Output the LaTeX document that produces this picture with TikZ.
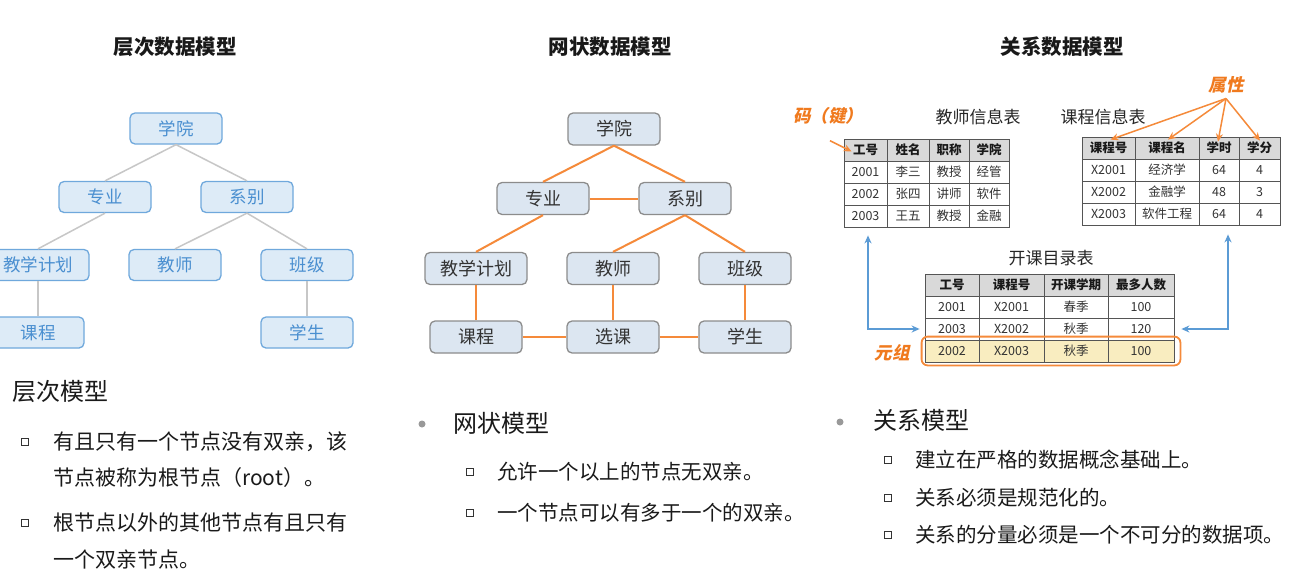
\documentclass[tikz,border=0pt]{standalone}
\usepackage{fontspec}
\setmainfont{Noto Sans CJK SC}
\newfontfamily\ocjk[FakeSlant=0.22]{Noto Sans CJK SC}
\usetikzlibrary{arrows.meta}
\definecolor{hfill}{HTML}{DDEBF7}
\definecolor{hdraw}{HTML}{6FA8DC}
\definecolor{htext}{HTML}{4A8FD0}
\definecolor{nfill}{HTML}{DCE6F1}
\definecolor{ndraw}{HTML}{8C8C8C}
\definecolor{ntext}{HTML}{333333}
\definecolor{oline}{HTML}{F58A3A}
\definecolor{otext}{HTML}{F07A1E}
\definecolor{bline}{HTML}{5B9BD5}
\definecolor{tgray}{HTML}{D9D9D9}
\definecolor{tyel}{HTML}{F9EDC0}
\definecolor{tline}{HTML}{555555}
\definecolor{ttext}{HTML}{333333}
\definecolor{btext}{HTML}{1A1A1A}
\begin{document}
\begin{tikzpicture}[x=1pt,y=-1pt,
  hbox/.style={draw=hdraw,fill=hfill,line width=1.3pt,rounded corners=5pt,minimum width=92pt,minimum height=31pt,inner sep=0pt,text=htext,font=\fontsize{17.5}{19}\selectfont},
  nbox/.style={draw=ndraw,fill=nfill,line width=1.3pt,rounded corners=5pt,minimum width=92pt,minimum height=32pt,inner sep=0pt,text=ntext,font=\fontsize{18}{20}\selectfont},
  hedge/.style={draw=black!22,line width=1.5pt},
  nedge/.style={draw=oline,line width=2pt},
  title/.style={font=\fontsize{20.5}{22}\selectfont\bfseries,text=black!90},
  heading/.style={anchor=west,font=\fontsize{24}{26}\selectfont,text=btext,inner sep=0pt},
  item/.style={anchor=west,font=\fontsize{21}{23}\selectfont,text=btext,inner sep=0pt},
  sitem/.style={item,font=\fontsize{20.5}{22}\selectfont},
  sqb/.style={draw=black!80,line width=0.9pt,minimum size=6.5pt,inner sep=0pt},
  dotb/.style={circle,fill=black!40,minimum size=7pt,inner sep=0pt},
  cell/.style={draw=tline,line width=0.8pt,inner sep=0pt,minimum height=22pt,text=ttext,font=\fontsize{12.5}{14}\selectfont},
  hcell/.style={cell,fill=tgray,font=\fontsize{12.5}{14}\selectfont\bfseries,text=black!90},
  olabel/.style={text=otext,font=\fontsize{17.5}{19}\selectfont\ocjk\bfseries,inner sep=0pt},
  tlabel/.style={text=black!85,font=\fontsize{17}{19}\selectfont,inner sep=0pt},
  oarr/.style={draw=oline,line width=1.5pt,-{Stealth[length=8pt,width=7pt]}},
  barr/.style={draw=bline,line width=2pt,{Stealth[length=8pt,width=7pt]}-{Stealth[length=8pt,width=7pt]}}
]
\useasboundingbox (0,0) rectangle (1310,576);
\fill[white] (0,0) rectangle (1310,576);

% ---------- titles
\node[title] (t1) at (175,47) {层次数据模型};
\node[title] (t2) at (610,47) {网状数据模型};
\node[title] (t3) at (1062,47) {关系数据模型};

% ---------- hierarchical model
\node[hbox] (h1) at (176,128.5) {学院};
\node[hbox] (h2) at (105,197) {专业};
\node[hbox] (h3) at (247,197) {系别};
\node[hbox,minimum width=102pt] (h4) at (38,265) {教学计划};
\node[hbox] (h5) at (175,265) {教师};
\node[hbox] (h6) at (307,265) {班级};
\node[hbox] (h7) at (38,332.5) {课程};
\node[hbox] (h8) at (307,332.5) {学生};
\draw[hedge] (h1.south) -- (h2.north);
\draw[hedge] (h1.south) -- (h3.north);
\draw[hedge] (h2.south) -- (h4.north);
\draw[hedge] (h3.south) -- (h5.north);
\draw[hedge] (h3.south) -- (h6.north);
\draw[hedge] (h4.south) -- (h7.north);
\draw[hedge] (h6.south) -- (h8.north);

% ---------- network model
\node[nbox] (n1) at (614,129) {学院};
\node[nbox] (n2) at (543,198.5) {专业};
\node[nbox] (n3) at (685,198.5) {系别};
\node[nbox,minimum width=102pt] (n4) at (476,268.5) {教学计划};
\node[nbox] (n5) at (613,268.5) {教师};
\node[nbox] (n6) at (745,268.5) {班级};
\node[nbox] (n7) at (476,337) {课程};
\node[nbox] (n8) at (613,337) {选课};
\node[nbox] (n9) at (745,337) {学生};
\draw[nedge] (n1.south) -- (n2.north);
\draw[nedge] (n1.south) -- (n3.north);
\draw[nedge] (n2.east) -- (n3.west);
\draw[nedge] (n2.south) -- (n4.north);
\draw[nedge] (n3.south) -- (n5.north);
\draw[nedge] (n3.south) -- (n6.north);
\draw[nedge] (n4.south) -- (n7.north);
\draw[nedge] (n5.south) -- (n8.north);
\draw[nedge] (n6.south) -- (n9.north);
\draw[nedge] (n7.east) -- (n8.west);
\draw[nedge] (n8.east) -- (n9.west);

% ---------- relational model: labels
\node[olabel] (key) at (828,116) {码（键）};
\node[tlabel] (tt1) at (978,117) {教师信息表};
\node[tlabel] (tt2) at (1103,117) {课程信息表};
\node[olabel] (attr) at (1226,85) {属性};
\node[tlabel] (tt3) at (1051,258) {开课目录表};

% teacher table
\node[hcell,minimum width=43pt] (T01) at (865.5,150) {工号};
\node[hcell,minimum width=42pt] (T02) at (908,150) {姓名};
\node[hcell,minimum width=40pt] (T03) at (949,150) {职称};
\node[hcell,minimum width=40pt] (T04) at (989,150) {学院};
\foreach \a/\b/\c/\d [count=\r] in {2001/李三/教授/经管,2002/张四/讲师/软件,2003/王五/教授/金融}{
  \node[cell,minimum width=43pt] (T\r1) at (865.5,{150+22*\r}) {\a};
  \node[cell,minimum width=42pt] (T\r2) at (908,{150+22*\r}) {\b};
  \node[cell,minimum width=40pt] (T\r3) at (949,{150+22*\r}) {\c};
  \node[cell,minimum width=40pt] (T\r4) at (989,{150+22*\r}) {\d};
}

% course table
\node[hcell,minimum width=53pt] (C01) at (1108.5,148) {课程号};
\node[hcell,minimum width=64pt] (C02) at (1167,148) {课程名};
\node[hcell,minimum width=40pt] (C03) at (1219,148) {学时};
\node[hcell,minimum width=41pt] (C04) at (1259.5,148) {学分};
\foreach \a/\b/\c/\d [count=\r] in {X2001/经济学/64/4,X2002/金融学/48/3,X2003/软件工程/64/4}{
  \node[cell,minimum width=53pt] (C\r1) at (1108.5,{148+22*\r}) {\a};
  \node[cell,minimum width=64pt] (C\r2) at (1167,{148+22*\r}) {\b};
  \node[cell,minimum width=40pt] (C\r3) at (1219,{148+22*\r}) {\c};
  \node[cell,minimum width=41pt] (C\r4) at (1259.5,{148+22*\r}) {\d};
}

% schedule table
\fill[tyel] (925,340) rectangle (1174,362);
\node[hcell,minimum width=54pt] (S01) at (952,285) {工号};
\node[hcell,minimum width=65pt] (S02) at (1011.5,285) {课程号};
\node[hcell,minimum width=64pt] (S03) at (1076,285) {开课学期};
\node[hcell,minimum width=66pt] (S04) at (1141,285) {最多人数};
\foreach \a/\b/\c/\d [count=\r] in {2001/X2001/春季/100,2003/X2002/秋季/120,2002/X2003/秋季/100}{
  \node[cell,minimum width=54pt] (S\r1) at (952,{285+22*\r}) {\a};
  \node[cell,minimum width=65pt] (S\r2) at (1011.5,{285+22*\r}) {\b};
  \node[cell,minimum width=64pt] (S\r3) at (1076,{285+22*\r}) {\c};
  \node[cell,minimum width=66pt] (S\r4) at (1141,{285+22*\r}) {\d};
}
\draw[draw=oline,line width=1.8pt,rounded corners=6pt] ([shift={(-3pt,3pt)}]S31.north west) rectangle ([shift={(6pt,-3pt)}]S34.south east);
\node[olabel] (tuple) at (892,353) {元组};

% arrows
\draw[oarr] ([shift={(2pt,-16pt)}]key.south) -- ([shift={(8pt,-1.5pt)}]T01.west);
\coordinate (as) at ([yshift=-5pt]attr.south);
\draw[oarr] (as) -- ([shift={(2pt,-3pt)}]C01.north);
\draw[oarr] (as) -- ([shift={(1pt,-3pt)}]C02.north);
\draw[oarr] (as) -- ([shift={(-1pt,-5pt)}]C03.north);
\draw[oarr] (as) -- ([shift={(0.5pt,-4pt)}]C04.north);
\draw[barr] ([shift={(2.5pt,-8pt)}]T31.south) |- ([xshift=-5pt]S21.west);
\draw[barr] ([shift={(9pt,-9pt)}]C33.south) |- ([xshift=7pt]S24.east);

% ---------- texts
\node[heading] (p1) at (12,391) {层次模型};
\node[sqb] (q1) at (25,442) {};
\node[item] (l1) at (53,442) {有且只有一个节点没有双亲，该};
\node[item] (l2) at (53,478) {节点被称为根节点（root）。};
\node[sqb] (q2) at (25,523) {};
\node[item] (l3) at (53,523) {根节点以外的其他节点有且只有};
\node[item] (l4) at (53,560) {一个双亲节点。};

\node[dotb] (d2) at (422,424) {};
\node[heading] (p2) at (453,423) {网状模型};
\node[sqb] (q3) at (470,472) {};
\node[sitem] (l5) at (497,472) {允许一个以上的节点无双亲。};
\node[sqb] (q4) at (470,513) {};
\node[sitem] (l6) at (497,513) {一个节点可以有多于一个的双亲。};

\node[dotb] (d3) at (840,422) {};
\node[heading] (p3) at (873,420) {关系模型};
\node[sqb] (q5) at (888,460) {};
\node[sitem] (l7) at (915,460) {建立在严格的数据概念基础上。};
\node[sqb] (q6) at (888,498) {};
\node[sitem] (l8) at (915,498) {关系必须是规范化的。};
\node[sqb] (q7) at (888,535) {};
\node[sitem] (l9) at (915,535) {关系的分量必须是一个不可分的数据项。};
\end{tikzpicture}
\end{document}
